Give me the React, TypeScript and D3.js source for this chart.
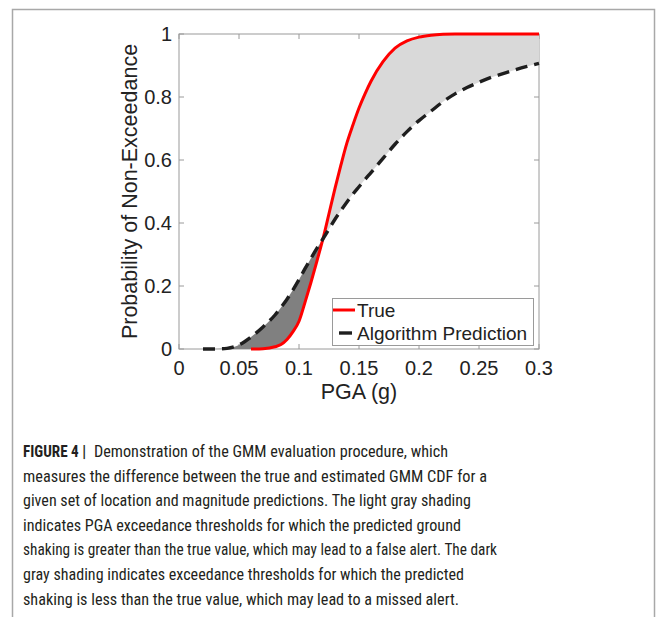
import React from 'react';
import * as d3 from 'd3';

// PGA grid (g) shared by both CDFs
const pga = [0.02, 0.03, 0.04, 0.05, 0.06, 0.07, 0.08, 0.085, 0.09, 0.095, 0.1, 0.105, 0.11, 0.115, 0.12, 0.125, 0.13, 0.135, 0.14, 0.145, 0.15, 0.155, 0.16, 0.17, 0.18, 0.19, 0.2, 0.21, 0.22, 0.23, 0.24, 0.25, 0.26, 0.27, 0.28, 0.29, 0.3];
// true CDF (drawn from 0.06 on)
const trueCdf = [null, null, null, null, 0, 0.001, 0.007, 0.014, 0.03, 0.055, 0.088, 0.148, 0.212, 0.28, 0.35, 0.43, 0.51, 0.585, 0.655, 0.712, 0.765, 0.81, 0.85, 0.912, 0.955, 0.978, 0.99, 0.996, 0.999, 1, 1, 1, 1, 1, 1, 1, 1];
const predCdf = [0, 0, 0.002, 0.013, 0.038, 0.07, 0.108, 0.132, 0.158, 0.188, 0.22, 0.255, 0.288, 0.32, 0.35, 0.381, 0.412, 0.44, 0.467, 0.492, 0.515, 0.538, 0.56, 0.605, 0.65, 0.69, 0.725, 0.755, 0.785, 0.81, 0.83, 0.847, 0.862, 0.874, 0.886, 0.897, 0.907];
const crossing = 0.12;

const xTicks = [0, 0.05, 0.1, 0.15, 0.2, 0.25, 0.3];
const xTickLabels = ['0', '0.05', '0.1', '0.15', '0.2', '0.25', '0.3'];
const yTicks = [0, 0.2, 0.4, 0.6, 0.8, 1];
const yTickLabels = ['0', '0.2', '0.4', '0.6', '0.8', '1'];

const legendNames = ['True', 'Algorithm Prediction'];

const captionLines = [
  'measures the difference between the true and estimated GMM CDF for a',
  'given set of location and magnitude predictions. The light gray shading',
  'indicates PGA exceedance thresholds for which the predicted ground',
  'shaking is greater than the true value, which may lead to a false alert. The dark',
  'gray shading indicates exceedance thresholds for which the predicted',
  'shaking is less than the true value, which may lead to a missed alert.',
];
const captionWidths = [464, 448, 438, 474, 441, 436];

const W = 663;
const H = 617;
const M = { left: 179, top: 34, right: 539, bottom: 349 };
const FONT = '"Liberation Sans", Arial, Helvetica, sans-serif';
const CAP_FONT = '"Liberation Sans Narrow", "Roboto Condensed", "Liberation Sans", Arial, sans-serif';
const AXIS = '#9a9a9a';
const INK = '#222';

const App = () => {
  const x = d3.scaleLinear().domain([0, 0.3]).range([M.left, M.right]);
  const y = d3.scaleLinear().domain([0, 1]).range([M.bottom, M.top]);

  const rows = pga.map((p, i) => ({ p, t: trueCdf[i], e: predCdf[i] }));

  const darkArea = d3.area<any>()
    .defined(d => d.p <= crossing + 1e-9)
    .x(d => x(d.p))
    .y0(d => y(d.t ?? 0))
    .y1(d => y(d.e))
    .curve(d3.curveMonotoneX);

  const lightArea = d3.area<any>()
    .defined(d => d.p >= crossing - 1e-9)
    .x(d => x(d.p))
    .y0(d => y(d.e))
    .y1(d => y(d.t ?? 0))
    .curve(d3.curveMonotoneX);

  const trueLine = d3.line<any>()
    .defined(d => d.t != null)
    .x(d => x(d.p))
    .y(d => y(d.t))
    .curve(d3.curveMonotoneX);

  const predLine = d3.line<any>()
    .x(d => x(d.p))
    .y(d => y(d.e))
    .curve(d3.curveMonotoneX);

  const tick = 5;

  return (
    <svg width={W} height={H} style={{ position: 'absolute', left: 0, top: 0, background: '#fff' }}>
      {/* figure frame */}
      <rect x={12.5} y={9.5} width={642} height={H + 20} fill="none" stroke="#a8a8a8" strokeWidth={1.5} />

      {/* axes box + ticks (below data, like MATLAB) */}
      <rect x={M.left} y={M.top} width={M.right - M.left} height={M.bottom - M.top} fill="#fff" stroke={AXIS} strokeWidth={1} />
      {xTicks.map(v => (
        <g key={'xt' + v}>
          <line x1={x(v)} x2={x(v)} y1={M.bottom} y2={M.bottom - tick} stroke={AXIS} />
          <line x1={x(v)} x2={x(v)} y1={M.top} y2={M.top + tick} stroke={AXIS} />
        </g>
      ))}
      {yTicks.map(v => (
        <g key={'yt' + v}>
          <line x1={M.left} x2={M.left + tick} y1={y(v)} y2={y(v)} stroke={AXIS} />
          <line x1={M.right} x2={M.right - tick} y1={y(v)} y2={y(v)} stroke={AXIS} />
        </g>
      ))}

      {/* shaded differences */}
      <path d={darkArea(rows) ?? ''} fill="#808080" />
      <path d={lightArea(rows) ?? ''} fill="#d9d9d9" />

      {/* curves */}
      <path d={trueLine(rows) ?? ''} fill="none" stroke="#ff0000" strokeWidth={3} />
      <path d={predLine(rows) ?? ''} fill="none" stroke="#1e1e1e" strokeWidth={3.4} strokeDasharray="12 7" />

      {/* tick labels */}
      <g fontFamily={FONT} fontSize={20} fill={INK}>
        {xTicks.map((v, i) => (
          <text key={'xl' + v} x={x(v)} y={375} textAnchor="middle">{xTickLabels[i]}</text>
        ))}
        {yTicks.map((v, i) => (
          <text key={'yl' + v} x={172} y={y(v) + 7} textAnchor="end">{yTickLabels[i]}</text>
        ))}
      </g>

      {/* axis labels */}
      <text x={(M.left + M.right) / 2} y={399} textAnchor="middle" fontFamily={FONT} fontSize={21.5} fill={INK}>PGA (g)</text>
      <text transform={`translate(137,${(M.top + M.bottom) / 2}) rotate(-90)`} textAnchor="middle" fontFamily={FONT} fontSize={21.5} fill={INK}>
        Probability of Non-Exceedance
      </text>

      {/* legend */}
      <rect x={332.5} y={298.5} width={201} height={47} fill="#fff" stroke={AXIS} strokeWidth={1} />
      <line x1={333} x2={355} y1={310} y2={310} stroke="#ff0000" strokeWidth={3} />
      <line x1={339} x2={352} y1={333} y2={333} stroke="#1e1e1e" strokeWidth={3.4} />
      <g fontFamily={FONT} fontSize={19} fill={INK}>
        <text x={357} y={317}>{legendNames[0]}</text>
        <text x={357} y={339.5}>{legendNames[1]}</text>
      </g>

      {/* caption */}
      <g fontFamily={CAP_FONT} fontSize={17} fill="#231f20">
        <text x={23} y={457} fontWeight="bold" textLength={63} lengthAdjust="spacingAndGlyphs">FIGURE 4 |</text>
        <text x={94} y={457} textLength={354} lengthAdjust="spacingAndGlyphs">
          Demonstration of the GMM evaluation procedure, which
        </text>
        {captionLines.map((line, i) => (
          <text key={i} x={23} y={481.5 + i * 24.6} textLength={captionWidths[i]} lengthAdjust="spacingAndGlyphs">{line}</text>
        ))}
      </g>
    </svg>
  );
};

export default App;
